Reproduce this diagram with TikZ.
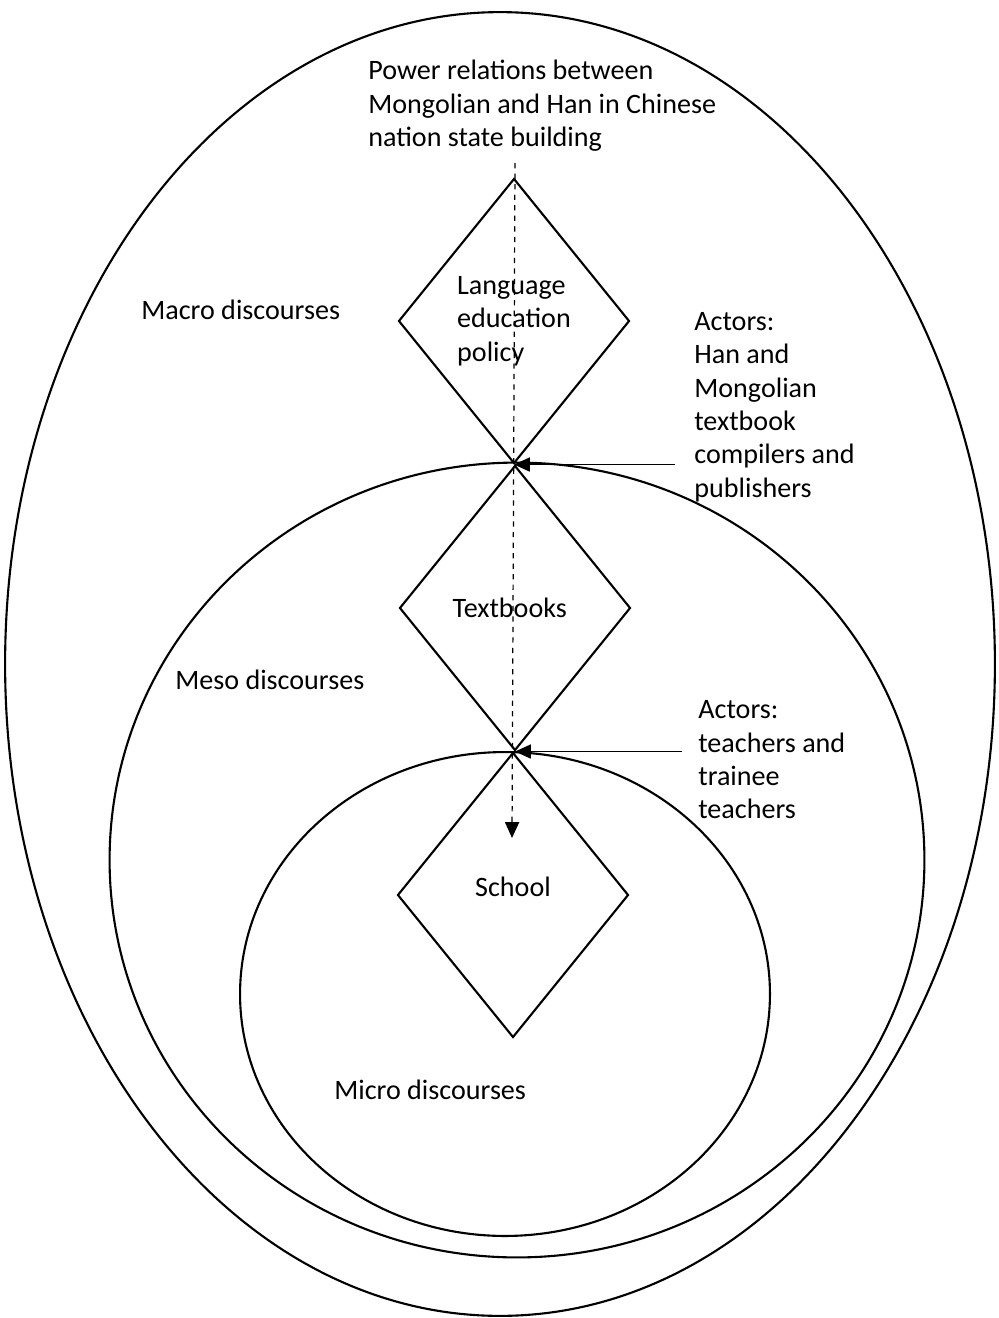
\documentclass[tikz,border=0pt]{standalone}
\usepackage{fontspec}
\setmainfont{Carlito}
\usepackage{tikz}
\usetikzlibrary{positioning}
\usetikzlibrary{shapes.geometric}
\usetikzlibrary{arrows.meta}
\begin{document}
\begin{tikzpicture}[x=0.02cm,y=-0.02cm,font=\fontsize{16pt}{19pt}\selectfont]
			\tikzstyle{LevelStyle} = [shape = ellipse, draw, line width = 1.2pt, inner sep = 0pt]
			\tikzstyle{StepStyle}  = [shape = diamond, draw, line width = 1.2pt, inner sep = 0pt, minimum width = 4.62cm, minimum height = 5.7cm, align = left]
			\tikzstyle{TextStyle}  = [anchor = west, align = left, inner sep = 0pt]
			\tikzstyle{EdgeStyle}  = [-{Triangle[length=9pt,width=8pt]}, line width = 0.7pt]
			\useasboundingbox (0,0) rectangle (998,1318);
			% discourse levels
			\node[LevelStyle, minimum width = 19.8cm, minimum height = 26.08cm] (macro) at (500,664) {};
			\node[LevelStyle, minimum width = 16.3cm, minimum height = 15.9cm] (meso) at (517,860) {};
			\node[LevelStyle, minimum width = 10.6cm, minimum height = 9.68cm] (micro) at (505,994) {};
			% steps
			\node[StepStyle] (policy) at (514,321) {\raisebox{10pt}{\begin{tabular}{@{}l@{}}Language\\education\\policy\end{tabular}}};
			\node[StepStyle] (books) at (515,608) {\hspace*{-6pt}Textbooks};
			\node[StepStyle] (school) at (513,895) {\raisebox{9pt}{School}};
			% labels
			\node[TextStyle] (power) at (368,106) {Power relations between\\Mongolian and Han in Chinese\\nation state building};
			\node[TextStyle] (macrolab) at (141,310) {Macro discourses};
			\node[TextStyle] (mesolab) at (175,680) {Meso discourses};
			\node[TextStyle] (microlab) at (334,1090) {Micro discourses};
			\node[TextStyle] (actors1) at (694,407) {Actors:\\Han and\\Mongolian\\textbook\\compilers and\\publishers};
			\node[TextStyle] (actors2) at (698,760) {Actors:\\teachers and\\trainee\\teachers};
			\coordinate (flowtop) at (515,163);
			\coordinate (flowend) at (512,838);
			\coordinate (act1) at (675,463);
			\coordinate (act2) at (682,752);
			\draw[EdgeStyle, dashed] (flowtop) -- (flowend);
			\draw[EdgeStyle] (act1 |- policy.south) -- (policy.south);
			\draw[EdgeStyle] (act2 |- books.south) -- (books.south);
		\end{tikzpicture}
\end{document}
